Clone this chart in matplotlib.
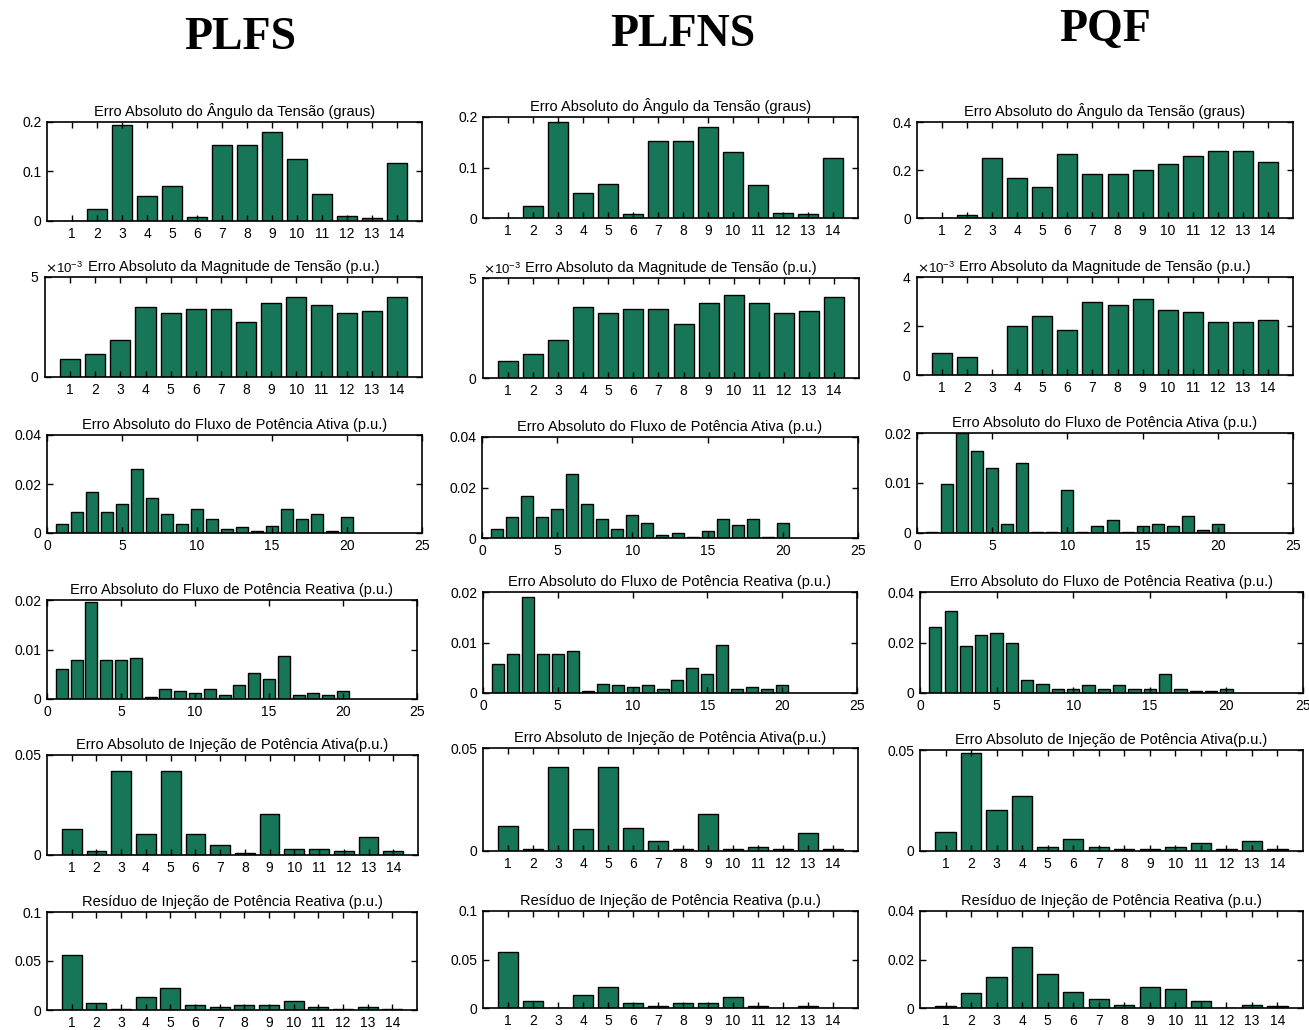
import matplotlib.pyplot as plt
import numpy as np
from matplotlib.ticker import FuncFormatter, ScalarFormatter

plt.rcParams['font.family'] = ['Liberation Sans', 'DejaVu Sans']

# 配色
COLOR_BAR = '#177558'
COLOR_EDGE = 'black'

W, H = 1309, 1030

# 列标题
methods = ['PLFS', 'PLFNS', 'PQF']

# 行标题
row_titles = [
    'Erro Absoluto do Ângulo da Tensão (graus)',
    'Erro Absoluto da Magnitude de Tensão (p.u.)',
    'Erro Absoluto do Fluxo de Potência Ativa (p.u.)',
    'Erro Absoluto do Fluxo de Potência Reativa (p.u.)',
    'Erro Absoluto de Injeção de Potência Ativa(p.u.)',
    'Resíduo de Injeção de Potência Reativa (p.u.)',
]

# ---- 数据 ----
# 电压角度误差 (graus), 14 barras
ang_plfs = [0, 0.024, 0.193, 0.051, 0.070, 0.008, 0.153, 0.153, 0.180, 0.125, 0.055, 0.011, 0.007, 0.118]
ang_plfns = [0, 0.023, 0.191, 0.049, 0.068, 0.007, 0.153, 0.153, 0.180, 0.130, 0.065, 0.010, 0.007, 0.119]
ang_pqf = [0, 0.014, 0.250, 0.168, 0.128, 0.267, 0.183, 0.183, 0.200, 0.226, 0.258, 0.279, 0.280, 0.235]

# 电压幅值误差 (p.u.)
mag_plfs = [0.88e-3, 1.15e-3, 1.85e-3, 3.50e-3, 3.22e-3, 3.40e-3, 3.40e-3, 2.73e-3, 3.70e-3, 4.00e-3, 3.62e-3, 3.22e-3, 3.32e-3, 4.00e-3]
mag_plfns = [0.86e-3, 1.22e-3, 1.91e-3, 3.55e-3, 3.27e-3, 3.45e-3, 3.45e-3, 2.69e-3, 3.75e-3, 4.16e-3, 3.75e-3, 3.27e-3, 3.37e-3, 4.04e-3]
mag_pqf = [0.89e-3, 0.74e-3, 0, 1.99e-3, 2.40e-3, 1.84e-3, 2.96e-3, 2.87e-3, 3.11e-3, 2.65e-3, 2.57e-3, 2.18e-3, 2.18e-3, 2.25e-3]

# 有功潮流误差 (p.u.), 20 ramos
pflow_plfs = [0.0038, 0.0086, 0.0167, 0.0086, 0.0117, 0.0260, 0.0143, 0.0076, 0.0038, 0.0096,
              0.0056, 0.0015, 0.0023, 0.0007, 0.0030, 0.0096, 0.0056, 0.0076, 0.0007, 0.0064]
pflow_plfns = [0.0037, 0.0083, 0.0167, 0.0083, 0.0114, 0.0253, 0.0135, 0.0075, 0.0037, 0.0090,
               0.0059, 0.0013, 0.0021, 0.0005, 0.0029, 0.0075, 0.0051, 0.0075, 0.0005, 0.0059]
pflow_pqf = [0.0003, 0.0098, 0.0200, 0.0164, 0.0130, 0.0019, 0.0141, 0.0002, 0.0002, 0.0086,
             0.0002, 0.0015, 0.0027, 0.0002, 0.0015, 0.0019, 0.0015, 0.0035, 0.0007, 0.0019]

# 无功潮流误差 (p.u.)
qflow_plfs = [0.0060, 0.0079, 0.0195, 0.0079, 0.0079, 0.0083, 0.0005, 0.0020, 0.0016, 0.0012,
              0.0020, 0.0008, 0.0028, 0.0052, 0.0040, 0.0087, 0.0008, 0.0012, 0.0008, 0.0016]
qflow_plfns = [0.0058, 0.0077, 0.0190, 0.0077, 0.0077, 0.0084, 0.0003, 0.0018, 0.0015, 0.0012,
               0.0015, 0.0007, 0.0026, 0.0050, 0.0038, 0.0096, 0.0007, 0.0012, 0.0007, 0.0015]
qflow_pqf = [0.0261, 0.0325, 0.0185, 0.0231, 0.0239, 0.0199, 0.0053, 0.0037, 0.0015, 0.0015,
             0.0030, 0.0015, 0.0030, 0.0015, 0.0015, 0.0077, 0.0015, 0.0007, 0.0007, 0.0015]

# 有功注入误差 (p.u.)
pinj_plfs = [0.0128, 0.0020, 0.0420, 0.0107, 0.0420, 0.0107, 0.0050, 0.0010, 0.0205, 0.0030, 0.0030, 0.0020, 0.0088, 0.0020]
pinj_plfns = [0.0123, 0.0010, 0.0409, 0.0106, 0.0409, 0.0114, 0.0049, 0.0010, 0.0179, 0.0010, 0.0020, 0.0010, 0.0086, 0.0010]
pinj_pqf = [0.0096, 0.0484, 0.0203, 0.0271, 0.0020, 0.0058, 0.0020, 0.0010, 0.0010, 0.0020, 0.0038, 0.0010, 0.0050, 0.0010]

# 无功注入残差 (p.u.)
qinj_plfs = [0.0566, 0.0068, 0.0014, 0.0129, 0.0227, 0.0047, 0.0030, 0.0047, 0.0047, 0.0088, 0.0030, 0.0014, 0.0030, 0.0014]
qinj_plfns = [0.0573, 0.0072, 0, 0.0133, 0.0212, 0.0051, 0.0017, 0.0051, 0.0051, 0.0113, 0.0017, 0, 0.0017, 0]
qinj_pqf = [0.0007, 0.0061, 0.0126, 0.0253, 0.0141, 0.0068, 0.0037, 0.0014, 0.0085, 0.0078, 0.0030, 0, 0.0014, 0.0007]

data = [
    [ang_plfs, ang_plfns, ang_pqf],
    [mag_plfs, mag_plfns, mag_pqf],
    [pflow_plfs, pflow_plfns, pflow_pqf],
    [qflow_plfs, qflow_plfns, qflow_pqf],
    [pinj_plfs, pinj_plfns, pinj_pqf],
    [qinj_plfs, qinj_plfns, qinj_pqf],
]

# y 轴刻度 (por linha, por coluna)
yticks = [
    [[0, 0.1, 0.2], [0, 0.1, 0.2], [0, 0.2, 0.4]],
    [[0, 0.005], [0, 0.005], [0, 0.002, 0.004]],
    [[0, 0.02, 0.04], [0, 0.02, 0.04], [0, 0.01, 0.02]],
    [[0, 0.01, 0.02], [0, 0.01, 0.02], [0, 0.02, 0.04]],
    [[0, 0.05], [0, 0.05], [0, 0.05]],
    [[0, 0.05, 0.1], [0, 0.05, 0.1], [0, 0.02, 0.04]],
]

# 子图位置 (pixels: left, top, right, bottom)
boxes = [
    [(47, 122, 422, 221), (483, 117, 858, 218), (917, 122, 1293, 218)],
    [(45, 277, 422, 377), (483, 278, 859, 378), (917, 277, 1293, 375)],
    [(47, 435, 422, 533), (482, 437, 858, 538), (917, 433, 1293, 533)],
    [(47, 600, 417, 699), (483, 592, 857, 693), (920, 592, 1303, 693)],
    [(47, 755, 418, 855), (483, 748, 858, 851), (920, 750, 1303, 851)],
    [(47, 912, 417, 1010), (483, 911, 858, 1008), (920, 911, 1303, 1008)],
]

fig = plt.figure(figsize=(W / 100, H / 100), dpi=100)

# 列标题
header_pos = [(240, 38), (683, 35), (1105, 30)]
for name, (hx, hy) in zip(methods, header_pos):
    fig.text(hx / W, 1 - hy / H, name, ha='center', va='center',
             fontsize=33, fontweight='bold', family='Liberation Serif')

g_fmt = FuncFormatter(lambda v, p: f'{v:g}')

for r in range(6):
    for c in range(3):
        l, t, rr, b = boxes[r][c]
        ax = fig.add_axes([l / W, 1 - b / H, (rr - l) / W, (b - t) / H])
        vals = data[r][c]
        x = np.arange(1, len(vals) + 1)
        ax.bar(x, vals, width=0.8, color=COLOR_BAR, edgecolor=COLOR_EDGE, linewidth=1.0)

        if len(vals) == 14:
            ax.set_xlim(0, 15)
            ax.set_xticks(x)
        else:
            ax.set_xlim(0, 25)
            ax.set_xticks([0, 5, 10, 15, 20, 25])

        yt = yticks[r][c]
        ax.set_ylim(0, yt[-1])
        ax.set_yticks(yt)
        if r == 1:
            sf = ScalarFormatter(useMathText=True)
            sf.set_powerlimits((0, 0))
            ax.yaxis.set_major_formatter(sf)
            ax.yaxis.get_offset_text().set_fontsize(9.5)
        else:
            ax.yaxis.set_major_formatter(g_fmt)

        ax.tick_params(direction='in', top=True, right=True, length=4,
                       width=1, labelsize=10, pad=4)
        for s in ax.spines.values():
            s.set_linewidth(1.2)
        ax.set_title(row_titles[r], fontsize=10.5, pad=4)

plt.savefig('out.png', dpi=100)
